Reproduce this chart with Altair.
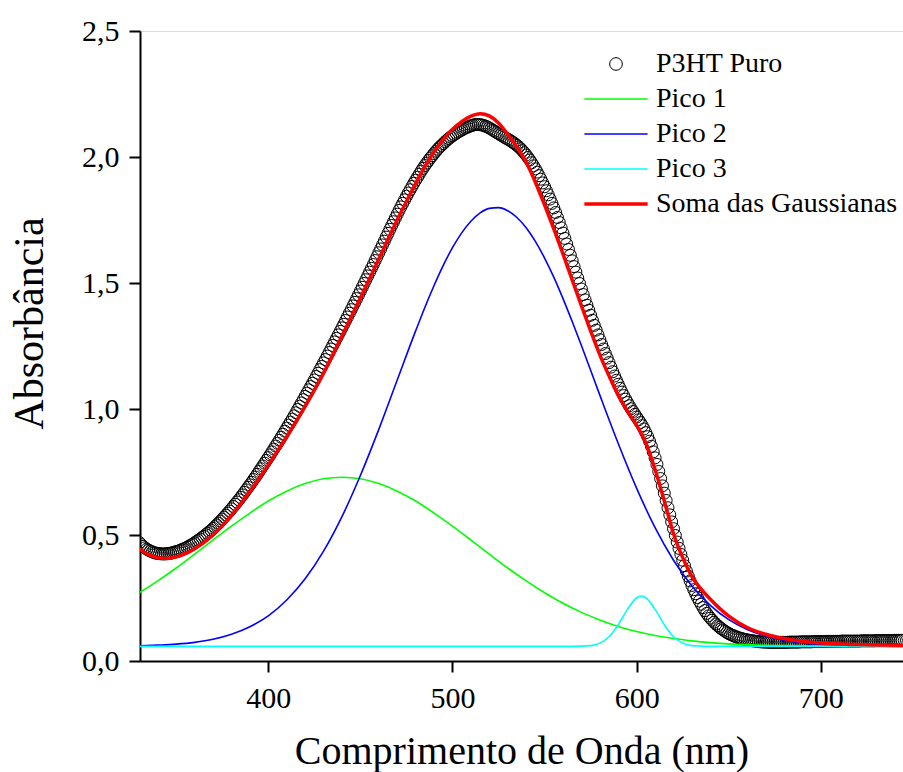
import altair as alt
import pandas as pd

# ---------------- data ----------------
series = ["P3HT Puro", "Pico 1", "Pico 2", "Pico 3", "Soma das Gaussianas"]
colors = ["#000000", "#00ff00", "#0000ff", "#00ffff", "#ff0000"]

# measured spectrum (circles), every 1 nm from 330 to 744 nm
wl_data = list(range(330, 745))
abs_data = [
    0.470, 0.462, 0.455, 0.449, 0.444, 0.440, 0.436, 0.433, 0.430, 0.428,  # 330
    0.427, 0.426, 0.425, 0.425, 0.425, 0.426, 0.427, 0.428, 0.430, 0.432,  # 340
    0.434, 0.436, 0.439, 0.442, 0.445, 0.448, 0.452, 0.456, 0.460, 0.464,  # 350
    0.469, 0.474, 0.479, 0.484, 0.490, 0.495, 0.501, 0.507, 0.513, 0.519,  # 360
    0.526, 0.533, 0.540, 0.547, 0.555, 0.563, 0.571, 0.579, 0.587, 0.595,  # 370
    0.604, 0.613, 0.622, 0.631, 0.640, 0.649, 0.659, 0.669, 0.679, 0.689,  # 380
    0.699, 0.709, 0.720, 0.730, 0.741, 0.752, 0.763, 0.774, 0.785, 0.796,  # 390
    0.807, 0.818, 0.830, 0.841, 0.853, 0.864, 0.876, 0.888, 0.900, 0.912,  # 400
    0.924, 0.936, 0.948, 0.960, 0.973, 0.985, 0.998, 1.011, 1.024, 1.037,  # 410
    1.050, 1.063, 1.076, 1.089, 1.102, 1.115, 1.129, 1.142, 1.156, 1.169,  # 420
    1.183, 1.196, 1.210, 1.224, 1.238, 1.252, 1.266, 1.280, 1.294, 1.308,  # 430
    1.322, 1.336, 1.351, 1.365, 1.380, 1.394, 1.409, 1.423, 1.438, 1.453,  # 440
    1.468, 1.483, 1.498, 1.513, 1.528, 1.543, 1.558, 1.573, 1.589, 1.604,  # 450
    1.620, 1.635, 1.651, 1.666, 1.682, 1.697, 1.713, 1.728, 1.743, 1.758,  # 460
    1.773, 1.788, 1.802, 1.816, 1.830, 1.844, 1.857, 1.870, 1.883, 1.896,  # 470
    1.908, 1.920, 1.932, 1.944, 1.955, 1.966, 1.976, 1.986, 1.996, 2.005,  # 480
    2.014, 2.023, 2.031, 2.039, 2.046, 2.053, 2.060, 2.067, 2.073, 2.079,  # 490
    2.084, 2.089, 2.094, 2.099, 2.103, 2.107, 2.111, 2.115, 2.118, 2.121,  # 500
    2.124, 2.126, 2.128, 2.129, 2.129, 2.128, 2.127, 2.125, 2.122, 2.119,  # 510
    2.115, 2.111, 2.106, 2.102, 2.097, 2.093, 2.088, 2.084, 2.079, 2.075,  # 520
    2.071, 2.067, 2.062, 2.057, 2.052, 2.046, 2.040, 2.033, 2.025, 2.017,  # 530
    2.008, 1.998, 1.988, 1.977, 1.965, 1.953, 1.940, 1.926, 1.912, 1.897,  # 540
    1.882, 1.866, 1.850, 1.833, 1.816, 1.798, 1.780, 1.760, 1.740, 1.719,  # 550
    1.698, 1.677, 1.655, 1.633, 1.610, 1.588, 1.565, 1.543, 1.520, 1.498,  # 560
    1.476, 1.454, 1.433, 1.412, 1.392, 1.372, 1.352, 1.332, 1.313, 1.294,  # 570
    1.275, 1.256, 1.238, 1.220, 1.202, 1.184, 1.166, 1.148, 1.131, 1.114,  # 580
    1.098, 1.082, 1.067, 1.053, 1.039, 1.026, 1.013, 1.001, 0.990, 0.979,  # 590
    0.968, 0.957, 0.946, 0.934, 0.921, 0.906, 0.890, 0.872, 0.852, 0.830,  # 600
    0.806, 0.780, 0.752, 0.724, 0.695, 0.666, 0.637, 0.608, 0.580, 0.552,  # 610
    0.525, 0.498, 0.472, 0.447, 0.423, 0.400, 0.378, 0.357, 0.337, 0.318,  # 620
    0.300, 0.283, 0.267, 0.252, 0.238, 0.225, 0.212, 0.200, 0.189, 0.179,  # 630
    0.170, 0.162, 0.154, 0.147, 0.140, 0.134, 0.128, 0.123, 0.118, 0.113,  # 640
    0.109, 0.105, 0.102, 0.099, 0.096, 0.093, 0.091, 0.089, 0.087, 0.085,  # 650
    0.084, 0.082, 0.081, 0.080, 0.079, 0.078, 0.077, 0.076, 0.076, 0.075,  # 660
    0.075, 0.075, 0.074, 0.074, 0.074, 0.074, 0.074, 0.074, 0.074, 0.074,  # 670
    0.074, 0.074, 0.074, 0.075, 0.075, 0.075, 0.075, 0.075, 0.075, 0.076,  # 680
    0.076, 0.076, 0.076, 0.076, 0.076, 0.076, 0.077, 0.077, 0.077, 0.077,  # 690
    0.077, 0.077, 0.077, 0.078, 0.078, 0.078, 0.078, 0.078, 0.078, 0.078,  # 700
    0.078, 0.079, 0.079, 0.079, 0.079, 0.079, 0.079, 0.079, 0.079, 0.079,  # 710
    0.079, 0.079, 0.080, 0.080, 0.080, 0.080, 0.080, 0.080, 0.080, 0.080,  # 720
    0.081, 0.081, 0.081, 0.081, 0.081, 0.081, 0.081, 0.081, 0.081, 0.081,  # 730
    0.082, 0.082, 0.082, 0.082, 0.082,                                      # 740
]

# Pico 1 (green)
wl_p1 = [330, 340, 350, 360, 370, 380, 390, 400, 410, 420, 430, 440, 450,
         460, 470, 480, 490, 500, 510, 520, 530, 540, 550, 560, 570, 580,
         590, 600, 610, 620, 630, 640, 650, 660, 670, 680, 690, 700, 710,
         720, 730, 740, 745]
pico1 = [0.271, 0.318, 0.369, 0.424, 0.480, 0.535, 0.587, 0.635, 0.674,
         0.704, 0.723, 0.729, 0.723, 0.704, 0.674, 0.635, 0.587, 0.535,
         0.480, 0.424, 0.369, 0.318, 0.271, 0.229, 0.193, 0.163, 0.137,
         0.117, 0.101, 0.089, 0.080, 0.073, 0.068, 0.065, 0.062, 0.061,
         0.060, 0.059, 0.058, 0.058, 0.058, 0.058, 0.058]

# Pico 2 (blue)
wl_p2 = [330, 340, 350, 360, 370, 380, 390, 400, 410, 420, 430, 440, 450,
         460, 470, 480, 485, 490, 495, 500, 505, 510, 515, 520, 525, 530,
         535, 540, 545, 550, 555, 560, 565, 570, 580, 590, 600, 610, 620,
         630, 640, 650, 660, 670, 680, 690, 700, 710, 720, 730, 740, 745]
pico2 = [0.060, 0.063, 0.067, 0.074, 0.086, 0.106, 0.136, 0.179, 0.242,
         0.326, 0.436, 0.573, 0.736, 0.919, 1.115, 1.310, 1.403, 1.490,
         1.570, 1.640, 1.699, 1.745, 1.778, 1.796, 1.799, 1.787, 1.760,
         1.719, 1.665, 1.599, 1.523, 1.438, 1.347, 1.252, 1.055, 0.863,
         0.685, 0.529, 0.400, 0.298, 0.221, 0.164, 0.125, 0.099, 0.082,
         0.072, 0.066, 0.062, 0.060, 0.059, 0.058, 0.058]

# Pico 3 (cyan)
wl_p3 = [330, 560, 570, 575, 580, 585, 590, 595, 600, 602.5, 605, 610, 615,
         620, 625, 630, 635, 640, 745]
pico3 = [0.058, 0.058, 0.059, 0.061, 0.071, 0.096, 0.144, 0.205, 0.251,
         0.258, 0.251, 0.205, 0.144, 0.096, 0.071, 0.061, 0.059, 0.058, 0.058]

# Soma das Gaussianas (red)
wl_soma = [330, 335, 340, 345, 350, 355, 360, 370, 380, 390, 400, 410, 420,
           430, 440, 450, 460, 470, 480, 485, 490, 495, 500, 505, 510, 515,
           520, 525, 530, 535, 540, 545, 550, 555, 560, 565, 570, 575, 580,
           585, 590, 595, 600, 605, 610, 615, 620, 625, 630, 635, 640, 650,
           660, 670, 680, 690, 700, 720, 745]
soma = [0.445, 0.422, 0.410, 0.407, 0.413, 0.426, 0.445, 0.500, 0.578, 0.672,
        0.778, 0.890, 1.010, 1.142, 1.290, 1.440, 1.595, 1.750, 1.895, 1.962,
        2.020, 2.070, 2.110, 2.140, 2.162, 2.172, 2.163, 2.135, 2.090, 2.040,
        1.980, 1.900, 1.810, 1.715, 1.615, 1.512, 1.410, 1.310, 1.215, 1.132,
        1.055, 0.992, 0.935, 0.865, 0.760, 0.635, 0.505, 0.410, 0.335, 0.285,
        0.245, 0.178, 0.133, 0.106, 0.089, 0.078, 0.071, 0.065, 0.062]

# ---------------- tables ----------------
df_pts = pd.DataFrame({"wl": wl_data, "a": abs_data, "serie": series[0]})
df_comp = pd.concat([
    pd.DataFrame({"wl": wl_p1, "a": pico1, "serie": series[1]}),
    pd.DataFrame({"wl": wl_p2, "a": pico2, "serie": series[2]}),
    pd.DataFrame({"wl": wl_p3, "a": pico3, "serie": series[3]}),
], ignore_index=True)
df_soma = pd.DataFrame({"wl": wl_soma, "a": soma, "serie": series[4]})

FONT = "Liberation Serif"
LINE_SYM = "M-5,0H5"

leg = alt.Legend(
    title=None, orient="none", legendX=462, legendY=19, direction="vertical",
    padding=0, labelFont=FONT, labelFontSize=28, labelColor="black",
    labelOffset=26, labelLimit=500, rowPadding=7, symbolSize=160,
    symbolFillColor="transparent",
)

x_enc = alt.X(
    "wl:Q",
    scale=alt.Scale(domain=[330.35, 744.6], nice=False, zero=False),
    axis=alt.Axis(
        values=[400, 500, 600, 700], format="d", grid=False,
        labelFont=FONT, labelFontSize=30, labelColor="black",
        labelBaseline="alphabetic", labelPadding=35,
        tickSize=11, tickWidth=2, tickColor="black",
        domainColor="black", domainWidth=2,
        title="Comprimento de Onda (nm)", titleFont=FONT, titleFontSize=40,
        titleFontWeight="normal", titleColor="black",
        titleBaseline="alphabetic", titleY=102,
    ),
)
y_enc = alt.Y(
    "a:Q",
    scale=alt.Scale(domain=[0, 2.5], nice=False, zero=False),
    axis=alt.Axis(
        values=[0, 0.5, 1, 1.5, 2, 2.5], grid=False,
        labelExpr="replace(format(datum.value, '.1f'), '.', ',')",
        labelFont=FONT, labelFontSize=30, labelColor="black", labelPadding=10,
        tickSize=11, tickWidth=2, tickColor="black",
        domainColor="black", domainWidth=2,
        title="Absorbância", titleFont=FONT, titleFontSize=42,
        titleFontWeight="normal", titleColor="black",
        titleBaseline="alphabetic", titleAngle=270, titleAlign="center",
        titleX=-98, titleY=292,
    ),
)

color_enc = alt.Color("serie:N", scale=alt.Scale(domain=series, range=colors), legend=leg)
shape_enc = alt.Shape(
    "serie:N",
    scale=alt.Scale(domain=series, range=["circle", LINE_SYM, LINE_SYM, LINE_SYM, LINE_SYM]),
    legend=leg,
)
sw_enc = alt.StrokeWidth(
    "serie:N",
    scale=alt.Scale(type="ordinal", domain=series, range=[1, 1.6, 1.6, 1.6, 3.5]),
    legend=leg,
)

points = alt.Chart(df_pts).mark_point(
    filled=False, size=144, strokeWidth=1, opacity=1, clip=True
).encode(x=x_enc, y=y_enc, color=color_enc, shape=shape_enc)

comps = alt.Chart(df_comp).mark_line(interpolate="monotone", clip=True).encode(
    x=x_enc, y=y_enc, color=color_enc, strokeWidth=sw_enc
)

fit = alt.Chart(df_soma).mark_line(interpolate="monotone", clip=True).encode(
    x=x_enc, y=y_enc, color=color_enc, strokeWidth=sw_enc
)

chart = alt.layer(points, comps, fit).properties(
    width=763, height=630,
    autosize=alt.AutoSizeParams(type="none"),
    padding={"left": 140, "top": 31, "right": 0, "bottom": 111},
).configure_view(
    stroke="#808080", strokeWidth=1
).configure(font=FONT, background="white")

chart.save("out.html", embed_options={"renderer": "svg", "actions": False})
